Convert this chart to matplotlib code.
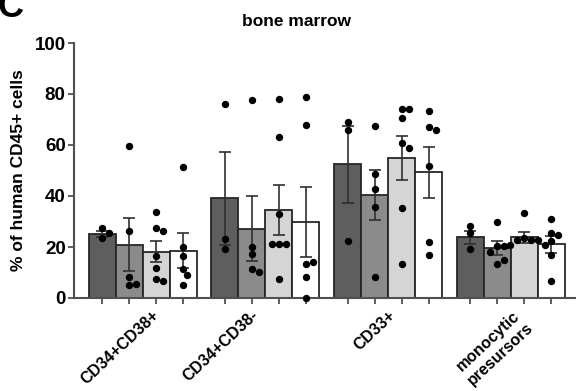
import matplotlib
matplotlib.use('Agg')
import matplotlib.pyplot as plt
import numpy as np

plt.rcParams['font.family'] = ['Liberation Sans', 'DejaVu Sans']
plt.rcParams['font.weight'] = 'bold'

# populations (x groups) and the 4 bars in each one
groups = ['CD34+CD38+', 'CD34+CD38-', 'CD33+', 'monocytic\npresursors']
bar_colors = ['#5e5e5e', '#8b8b8b', '#d5d5d5', '#ffffff']

# bar heights (mean) and SEM, one row per group
means = [[25.1, 20.8, 18.2, 18.6],
         [39.1, 27.1, 34.5, 29.9],
         [52.4, 40.4, 55.0, 49.3],
         [23.8, 19.5, 23.8, 21.0]]
sems = [[1.3, 10.4, 4.1, 6.85],
        [18.2, 12.75, 9.8, 13.75],
        [15.05, 9.65, 8.7, 9.9],
        [2.5, 2.8, 2.1, 3.45]]

# individual mice
pts = [
    [[27.6, 23.4, 25.4],
     [59.7, 26.3, 8.4, 5.0, 5.5],
     [33.7, 27.6, 26.3, 16.5, 11.9, 7.4, 6.7],
     [51.2, 20.1, 16.5, 11.4, 9.0, 5.1]],
    [[75.9, 23.1, 19.1],
     [77.6, 20.1, 17.3, 11.2, 10.3],
     [78.0, 63.3, 32.8, 21.2, 21.2, 21.2, 7.3],
     [78.7, 67.7, 13.5, 14.3, 8.1, 0.1]],
    [[69.1, 65.9, 22.5],
     [67.6, 48.6, 42.7, 35.8, 8.1],
     [74.0, 74.0, 70.7, 60.7, 59.0, 35.2, 13.2],
     [73.5, 67.1, 65.8, 51.8, 21.8, 16.9]],
    [[28.2, 25.4, 19.2],
     [29.9, 20.5, 20.5, 18.2, 13.3, 14.8],
     [33.2, 23.4, 22.7, 22.7, 22.7, 20.8, 20.8],
     [31.0, 25.6, 24.8, 22.4, 16.9, 6.8]],
]

gstep = 4.55  # distance between group starts, in bar widths
lab_dx = [0.35, -0.52, 0.0, 0.1]  # small per-label nudges (layout only)


def swarm(vals, xpx=27.0, ypx=2.55, d=7.0):
    # simple beeswarm, offsets in bar-width units
    placed = []
    offs = []
    for v in vals:
        k = 0
        while True:
            cands = [0.0] if k == 0 else [k * d / 2, -k * d / 2]
            ok = None
            for c in cands:
                if all((c - px) ** 2 + ((v - pv) * ypx) ** 2 >= d * d for px, pv in placed):
                    ok = c
                    break
            if ok is not None:
                break
            k += 1
        placed.append((ok, v))
        offs.append(ok / xpx)
    return offs


fig = plt.figure(figsize=(5.76, 3.91), dpi=100)
ax = fig.add_axes([74 / 576, 1 - 298 / 391, 1 - 74 / 576, (298 - 43) / 391])

xt = []
for g in range(len(groups)):
    for j in range(4):
        x = g * gstep + j
        xt.append(x)
        ax.bar(x, means[g][j], width=1.0, color=bar_colors[j],
               edgecolor='#262626', linewidth=1.3, zorder=2)
        ax.errorbar(x, means[g][j], yerr=sems[g][j], fmt='none',
                    ecolor='#303030', elinewidth=1.2, capsize=4.0,
                    capthick=1.2, zorder=3)
        offs = swarm(pts[g][j])
        ax.plot(x + np.array(offs), pts[g][j], 'o', color='black',
                ms=4.3, zorder=4, clip_on=False)

ax.set_xlim(-1.04, 17.56)
ax.set_ylim(0, 100)
ax.set_yticks([0, 20, 40, 60, 80, 100])
ax.set_xticks(xt)
ax.set_xticklabels([])
for s in ['top', 'right']:
    ax.spines[s].set_visible(False)
for s in ['left', 'bottom']:
    ax.spines[s].set_color('#505050')
    ax.spines[s].set_linewidth(1.5)
ax.tick_params(axis='both', color='#505050', width=1.3, length=4)
ax.tick_params(axis='y', labelsize=13.5, pad=2)
for lab in ax.get_yticklabels():
    lab.set_fontweight('bold')

# group labels, rotated
for g, name in enumerate(groups):
    cx = g * gstep + 1.5 + lab_dx[g]
    ax.text(cx, -3.8, name, rotation=43, ha='right', va='top',
            rotation_mode='anchor', fontsize=11.5, fontweight='bold',
            multialignment='center', linespacing=1.2)

ax.set_ylabel('% of human CD45+ cells', fontsize=12.5, fontweight='bold', labelpad=6)

fig.text(296 / 576, 1 - 21 / 391, 'bone marrow', ha='center', va='center',
         fontsize=12.5, fontweight='bold')
fig.text(-0.004, 1 - 17 / 391, 'C', ha='left', va='baseline',
         fontsize=26, fontweight='bold')

fig.savefig('out.png', dpi=100)
